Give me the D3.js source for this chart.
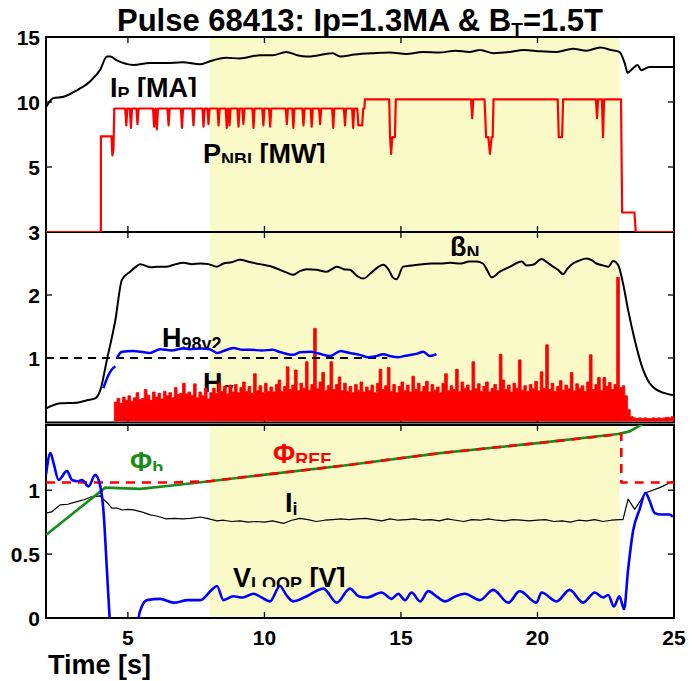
<!DOCTYPE html>
<html>
<head>
<meta charset="utf-8">
<script src="https://cdn.jsdelivr.net/npm/d3@7"></script>
<style>
  body { margin: 0; background: #fff; }
  svg { display: block; }
  text { font-family: "Liberation Sans", Arial, Helvetica, sans-serif; font-weight: bold; }
</style>
</head>
<body>
<div id="chart"></div>
<script>
'use strict'

////////////////////////////////////
/////////////// data ///////////////
////////////////////////////////////

// top panel: plasma current (x10) and NBI power, [time, value]
const ipData = [[2,9.6],[2.27,10.3],[2.64,10.4],[3.13,10.9],[3.62,11.6],[3.99,12.5],[4.23,13.5],[4.35,13.5],[4.6,13.2],[5.2,12.85],[5.8,13.0],[6.4,13.0],[7.0,13.05],[7.65,12.9],[7.95,13.1],[8.6,13.4],[9.1,13.35],[9.84,13.6],[10.3,13.6],[10.8,13.85],[11.2,13.6],[11.55,13.5],[12.0,13.6],[12.5,13.75],[12.77,13.5],[13.3,13.65],[14.0,13.75],[14.6,13.8],[15.2,13.7],[15.8,13.85],[16.4,13.8],[17.0,13.95],[17.5,13.85],[17.9,14.0],[18.4,13.75],[19.0,13.85],[19.5,14.0],[20.1,13.9],[20.7,13.85],[21.3,14.1],[21.8,13.95],[22.3,14.2],[22.7,14.0],[23.0,13.85],[23.2,12.95],[23.3,12.25],[23.5,12.6],[23.66,12.85],[23.8,12.45],[24.1,12.7],[25,12.7]]

const pnbiData = [[2,0],[4.01,0],[4.01,7.35],[4.40,7.35],[4.43,5.9],[4.47,6.3],[4.5,9.5],
  [4.90,9.5],[4.94,8.2],[4.98,9.5],[5.07,9.5],[5.11,8.0],[5.15,9.5],[5.31,9.5],[5.35,8.3],[5.39,9.5],
  [5.92,9.5],[5.96,8.1],[6.00,9.5],[6.02,9.5],[6.06,7.9],[6.10,9.5],[6.45,9.5],[6.49,8.2],[6.53,9.5],
  [6.94,9.5],[6.98,8.0],[7.02,9.5],[7.36,9.5],[7.40,8.2],[7.44,9.5],[7.73,9.5],[7.77,8.1],[7.81,9.5],
  [7.91,9.5],[7.95,8.3],[7.99,9.5],[8.28,9.5],[8.32,8.2],[8.36,9.5],[8.58,9.5],[8.62,8.0],[8.66,9.5],
  [8.68,9.5],[8.72,8.2],[8.76,9.5],[9.01,9.5],[9.05,8.1],[9.09,9.5],[9.19,9.5],[9.23,8.3],[9.27,9.5],
  [9.56,9.5],[9.60,8.0],[9.64,9.5],[9.92,9.5],[9.96,8.2],[10.00,9.5],[10.17,9.5],[10.21,8.1],[10.25,9.5],
  [10.78,9.5],[10.82,8.3],[10.86,9.5],[11.02,9.5],[11.06,8.0],[11.10,9.5],[11.39,9.5],[11.43,8.2],[11.47,9.5],
  [11.69,9.5],[11.73,8.1],[11.77,9.5],[12.00,9.5],[12.04,8.3],[12.08,9.5],[12.48,9.5],[12.52,8.0],[12.56,9.5],
  [12.91,9.5],[12.95,8.2],[12.99,9.5],[13.21,9.5],[13.25,8.0],[13.29,9.5],[13.40,9.5],[13.44,8.2],[13.58,8.2],
  [13.62,9.5],[13.66,9.5],[13.68,10.2],
  [14.57,10.2],[14.6,7.3],[14.64,6.0],[14.68,7.3],[14.78,7.3],[14.81,10.2],
  [17.57,10.2],[17.61,8.75],[17.65,10.2],
  [18.06,10.2],[18.12,7.3],[18.2,7.3],[18.26,6.0],[18.32,7.3],[18.36,7.3],[18.39,10.2],
  [20.74,10.2],[20.78,7.3],[20.9,7.3],[20.94,10.2],
  [22.14,10.2],[22.18,8.75],[22.22,10.2],[22.36,10.2],[22.40,7.3],[22.44,10.2],
  [23.06,10.2],[23.1,1.5],[23.55,1.5],[23.6,0],[25,0]]

// middle panel: beta_N, H98y2 (two pieces), H-alpha
const betaNData = [[2,0.2],[2.52,0.28],[3.13,0.29],[3.5,0.33],[3.8,0.36],[3.99,0.49],[4.23,0.97],[4.54,1.6],[4.78,2.24],[5.08,2.37],[5.3,2.45],[5.45,2.49],[5.82,2.44],[6.1,2.45],[6.43,2.45],[6.75,2.49],[7.04,2.51],[7.35,2.49],[7.65,2.5],[7.95,2.49],[8.26,2.45],[8.5,2.5],[8.8,2.52],[9.1,2.56],[9.5,2.52],[9.96,2.48],[10.2,2.46],[10.45,2.42],[10.8,2.36],[11.06,2.32],[11.3,2.38],[11.55,2.41],[11.9,2.4],[12.28,2.37],[12.5,2.42],[12.65,2.45],[12.9,2.41],[13.13,2.4],[13.4,2.3],[13.62,2.26],[13.9,2.35],[14.15,2.44],[14.35,2.48],[14.55,2.4],[14.7,2.28],[14.84,2.25],[15.08,2.45],[15.4,2.47],[15.8,2.49],[16.1,2.5],[16.43,2.5],[16.8,2.51],[17.2,2.5],[17.5,2.53],[17.77,2.53],[18.0,2.5],[18.15,2.4],[18.32,2.28],[18.62,2.37],[19.0,2.45],[19.42,2.53],[19.6,2.47],[19.84,2.48],[20.15,2.57],[20.35,2.52],[20.57,2.45],[20.75,2.4],[20.94,2.33],[21.1,2.42],[21.3,2.5],[21.55,2.55],[21.8,2.58],[22.0,2.55],[22.16,2.5],[22.4,2.47],[22.6,2.45],[22.77,2.54],[22.95,2.48],[23.13,2.19],[23.32,1.76],[23.56,1.29],[23.87,0.81],[24.05,0.64],[24.23,0.54],[24.6,0.45],[24.96,0.41]]

const h98RampData = [[4.1,0.52],[4.2,0.64],[4.29,0.73],[4.42,0.82],[4.54,0.87]]
const h98Data = [[4.6,1.0],[4.78,1.1],[5.2,1.11],[5.45,1.1],[5.8,1.08],[6.18,1.14],[6.6,1.12],[7.0,1.15],[7.28,1.14],[7.7,1.15],[8.0,1.14],[8.26,1.08],[8.5,1.11],[8.86,1.16],[9.2,1.13],[9.48,1.13],[9.9,1.12],[10.3,1.13],[10.6,1.09],[11.06,1.05],[11.3,1.09],[11.7,1.1],[12.0,1.07],[12.4,1.03],[12.8,1.11],[13.0,1.09],[13.25,1.07],[13.5,1.05],[13.8,1.01],[14.1,1.03],[14.35,1.06],[14.6,1.03],[14.9,1.01],[15.1,1.03],[15.39,1.05],[15.6,1.07],[15.82,1.1],[16.06,1.03],[16.3,1.06]]
const h98Ref = 1
const h98RefEnd = 14.5

// H-alpha samples every 0.1 s from 4.5 s to 25.0 s
const hAlphaStart = 4.5
const hAlphaStep = 0.1
const hAlphaValues = [
  0.30,0.36,0.28,0.38,0.33,0.40,0.31,0.37,0.45,0.34,
  0.36,0.50,0.41,0.33,0.46,0.38,0.44,0.35,0.47,0.40,
  0.45,0.37,0.53,0.42,0.44,0.60,0.43,0.46,0.41,0.59,
  0.37,0.46,0.40,0.52,0.35,0.45,
  0.52,0.44,0.60,0.47,0.55,0.43,0.57,0.46,0.58,0.45,
  0.53,0.62,0.47,0.55,0.44,0.75,0.48,0.56,0.45,0.60,
  0.47,0.54,0.46,0.58,0.65,0.47,0.55,0.86,0.50,0.57,
  0.81,0.48,0.60,0.52,0.94,0.49,0.58,1.47,0.51,0.62,
  0.77,0.48,0.56,0.94,0.50,0.58,0.70,
  0.48,0.60,0.47,0.55,0.45,0.58,0.49,0.62,0.46,0.54,
  0.48,0.57,0.45,0.60,0.82,0.50,0.56,0.85,0.47,0.58,
  0.45,0.55,0.62,0.48,0.57,0.46,0.71,0.50,0.60,0.47,
  0.55,0.63,0.46,0.58,0.49,0.54,0.45,0.60,0.75,0.48,
  0.56,0.50,0.82,0.47,0.62,0.52,0.57,0.48,0.94,0.51,
  0.59,0.47,0.55,0.62,0.46,0.52,0.58,0.48,1.06,0.65,
  0.50,0.57,0.46,0.60,0.52,0.97,0.49,0.56,0.47,0.58,
  0.51,0.63,0.48,0.78,0.52,1.21,0.50,0.60,0.47,0.55,
  0.64,0.49,0.57,0.51,0.77,0.48,0.59,0.52,0.56,0.47,
  0.62,1.05,0.50,0.58,0.69,0.49,0.69,0.55,0.61,0.50,
  0.58,2.28,0.53,0.56,0.40,0.18,0.07,
  0.05,0.04,0.05,0.04,0.05,0.04,0.04,0.05,0.04,0.05,0.04,0.05,0.06,0.05,0.07,0.06]

// bottom panel: flux, internal inductance, loop voltage
const phiBData = [[2,0.65],[4.17,1.02],[5.45,1.01],[6.79,1.04],[7.99,1.07],[9.96,1.12],[13.0,1.195],[16.43,1.29],[20.09,1.37],[22.95,1.44],[23.38,1.46],[23.87,1.52]]
const phiRefData = [[2,1.06],[6.6,1.06],[7.99,1.07],[9.96,1.12],[13.0,1.195],[16.43,1.29],[20.09,1.37],[23.07,1.44],[23.07,1.06],[25,1.06]]
const liData = [[2,0.82],[2.2,0.83],[2.52,0.885],[2.8,0.89],[3.13,0.91],[3.4,0.925],[3.62,0.945],[3.99,0.955],[4.1,0.93],[4.25,0.9],[4.41,0.86],[4.6,0.86],[4.8,0.845],[5.0,0.85],[5.2,0.846],[5.5,0.83],[5.82,0.807],[6.0,0.8],[6.18,0.79],[6.4,0.775],[6.7,0.78],[7.0,0.775],[7.3,0.78],[7.65,0.79],[7.9,0.78],[8.26,0.76],[8.5,0.765],[8.8,0.755],[9.1,0.76],[9.4,0.75],[9.7,0.755],[10.0,0.75],[10.3,0.76],[10.7,0.74],[11.0,0.765],[11.3,0.78],[11.6,0.77],[11.9,0.755],[12.2,0.765],[12.5,0.77],[12.8,0.775],[13.1,0.77],[13.4,0.775],[13.7,0.78],[14.0,0.77],[14.3,0.76],[14.6,0.775],[14.9,0.765],[15.2,0.77],[15.5,0.775],[15.8,0.765],[16.1,0.77],[16.4,0.76],[16.7,0.775],[17.0,0.765],[17.3,0.755],[17.6,0.77],[17.9,0.765],[18.2,0.775],[18.5,0.765],[18.8,0.76],[19.1,0.77],[19.4,0.765],[19.7,0.76],[20.0,0.765],[20.3,0.77],[20.6,0.755],[20.9,0.76],[21.2,0.75],[21.5,0.765],[21.8,0.76],[22.1,0.77],[22.4,0.755],[22.7,0.765],[23.0,0.77],[23.13,0.77],[23.32,0.93],[23.56,0.85],[23.96,0.98],[24.48,1.02],[24.96,1.07]]
const vloopData = [[2,1.12],[2.16,1.29],[2.28,1.21],[2.46,1.08],[2.77,1.15],[2.95,1.08],[3.15,1.07],[3.32,1.08],[3.56,1.03],[3.8,1.12],[3.99,1.03],[4.1,0.85],[4.23,0.38],[4.33,0],[4.4,-0.2],[5.3,-0.2],[5.39,0],[5.51,0.09],[5.7,0.14],[6.18,0.15],[6.67,0.12],[7.2,0.14],[7.65,0.14],[8.07,0.22],[8.26,0.25],[8.5,0.14],[8.86,0.17],[9.2,0.16],[9.6,0.19],[9.9,0.16],[10.2,0.13],[10.57,0.25],[10.8,0.18],[11.06,0.13],[11.55,0.17],[12.16,0.23],[12.65,0.12],[13.13,0.23],[13.45,0.17],[13.75,0.16],[14.29,0.2],[14.66,0.15],[14.9,0.19],[15.15,0.14],[15.39,0.2],[15.7,0.13],[16.0,0.21],[16.3,0.17],[16.61,0.13],[17.0,0.17],[17.34,0.19],[17.89,0.14],[18.38,0.22],[18.93,0.12],[19.35,0.21],[19.96,0.12],[20.15,0.2],[20.7,0.13],[21.18,0.22],[21.67,0.12],[22.1,0.2],[22.4,0.16],[22.59,0.18],[22.8,0.09],[23.0,0.17],[23.17,0.07],[23.32,0.38],[23.5,0.68],[23.74,0.85],[23.96,0.98],[24.1,0.92],[24.3,0.82],[24.54,0.81],[24.84,0.81],[24.96,0.79]]

// flat-top window and ticks
const flatTop = [8, 23]
const timeTicks = [5, 10, 15, 20, 25]
const topTicks = [5, 10, 15]
const midTicks = [1, 2, 3]
const botTicks = [0, 0.5, 1]

////////////////////////////////////
//////////// svg setup /////////////
////////////////////////////////////

const W = 693, H = 681
const red = '#ff0000', blue = '#0000ff', green = '#1a8c1a', yellow = '#fafac8'

const svg = d3.select('#chart')
  .append('svg')
  .attr('width', W)
  .attr('height', H)

const x = d3.scaleLinear().domain([2, 25]).range([46, 674])

const panels = [
  {id: 'top', y: d3.scaleLinear().domain([0, 15]).range([232, 37]), top: 37, bottom: 232, ticks: topTicks},
  {id: 'mid', y: d3.scaleLinear().domain([0, 3]).range([421, 232]), top: 232, bottom: 422.5, ticks: midTicks},
  {id: 'bot', y: d3.scaleLinear().domain([0, 1.51]).range([618, 425]), top: 425, bottom: 618, ticks: botTicks}
]
const [pTop, pMid, pBot] = panels

const defs = svg.append('defs')
panels.forEach(p => {
  defs.append('clipPath').attr('id', 'clip-' + p.id)
    .append('rect')
    .attr('x', x(2)).attr('y', p.top)
    .attr('width', x(25) - x(2)).attr('height', p.bottom - p.top)
})

// flat-top shading
svg.append('rect')
  .attr('x', x(flatTop[0]))
  .attr('y', pTop.top)
  .attr('width', x(flatTop[1]) - x(flatTop[0]))
  .attr('height', pBot.bottom - pTop.top)
  .attr('fill', yellow)

////////////////////////////////////
////////////// frames //////////////
////////////////////////////////////

const frame = svg.append('g')
panels.forEach(p => {
  frame.append('rect')
    .attr('x', x(2)).attr('y', p.top)
    .attr('width', x(25) - x(2)).attr('height', p.bottom - p.top)
    .attr('fill', 'none').attr('stroke', '#000').attr('stroke-width', 2)

  // inward time ticks on top and bottom edges
  ;[5, 10, 15, 20].forEach(t => {
    frame.append('line').attr('x1', x(t)).attr('x2', x(t))
      .attr('y1', p.top).attr('y2', p.top + 6)
      .attr('stroke', '#000').attr('stroke-width', 1.3)
    frame.append('line').attr('x1', x(t)).attr('x2', x(t))
      .attr('y1', p.bottom).attr('y2', p.bottom - 6)
      .attr('stroke', '#000').attr('stroke-width', 1.3)
  })

  // inward value ticks, both sides
  p.ticks.forEach(v => {
    const yy = p.y(v)
    if (yy <= p.top + 1 || yy >= p.bottom - 1) return
    frame.append('line').attr('x1', x(2)).attr('x2', x(2) + 6)
      .attr('y1', yy).attr('y2', yy).attr('stroke', '#000').attr('stroke-width', 1.3)
    frame.append('line').attr('x1', x(25)).attr('x2', x(25) - 6)
      .attr('y1', yy).attr('y2', yy).attr('stroke', '#000').attr('stroke-width', 1.3)
  })

  // value labels
  frame.selectAll(null)
    .data(p.ticks)
    .join('text')
    .attr('x', 40)
    .attr('y', d => p.y(d) + 7.5)
    .attr('text-anchor', 'end')
    .attr('font-size', 21)
    .text(d => d)
})

frame.selectAll(null)
  .data(timeTicks)
  .join('text')
  .attr('x', d => x(d))
  .attr('y', 645)
  .attr('text-anchor', 'middle')
  .attr('font-size', 21)
  .text(d => d)

frame.append('text')
  .attr('x', 48).attr('y', 674)
  .attr('font-size', 27)
  .text('Time [s]')

const title = svg.append('text')
  .attr('x', 360).attr('y', 31)
  .attr('text-anchor', 'middle')
  .attr('font-size', 31)
title.append('tspan').text('Pulse 68413: Ip=1.3MA & B')
title.append('tspan').attr('font-size', 19).attr('dy', 5).text('T')
title.append('tspan').attr('dy', -5).text('=1.5T')

////////////////////////////////////
////////////// labels //////////////
////////////////////////////////////

const labelLayer = svg.append('g')
function addLabel(parts, lx, ly, color, clipY, layer) {
  const id = 'lab-' + Math.round(lx) + '-' + Math.round(ly)
  if (clipY != null) {
    defs.append('clipPath').attr('id', id)
      .append('rect').attr('x', 0).attr('y', clipY - 40).attr('width', W).attr('height', 40)
  }
  const t = (layer || labelLayer).append('text')
    .attr('x', lx).attr('y', ly)
    .attr('font-size', 27)
    .attr('fill', color)
  if (clipY != null) t.attr('clip-path', `url(#${id})`)
  let shifted = false
  parts.forEach(([s, sub]) => {
    const ts = t.append('tspan').text(s)
    if (sub && !shifted) { ts.attr('font-size', 18).attr('dy', 3); shifted = true }
    else if (!sub && shifted) { ts.attr('dy', -3); shifted = false }
  })
}

////////////////////////////////////
/////////////// lines //////////////
////////////////////////////////////

function drawLine(p, data, color, width, dash, curve) {
  const line = d3.line().x(d => x(d[0])).y(d => p.y(d[1])).curve(curve || d3.curveLinear)
  svg.append('path')
    .attr('clip-path', `url(#clip-${p.id})`)
    .attr('d', line(data))
    .attr('fill', 'none')
    .attr('stroke', color)
    .attr('stroke-width', width)
    .attr('stroke-linejoin', 'round')
    .attr('stroke-dasharray', dash || null)
}

// top panel
drawLine(pTop, ipData, '#000', 2, null, d3.curveMonotoneX)
drawLine(pTop, pnbiData, red, 2.2)

// middle panel
const hLabelLayer = svg.append('g')
addLabel([['H'], ['α', 1]], 203, 392, '#000', 392, hLabelLayer)

const hAlpha = hAlphaValues.map((v, i) => [hAlphaStart + i * hAlphaStep, v])
svg.append('path')
  .attr('clip-path', 'url(#clip-mid)')
  .attr('d', d3.area().curve(d3.curveStepAfter)
    .x(d => x(d[0])).y0(pMid.y(0)).y1(d => pMid.y(d[1]))(hAlpha))
  .attr('fill', red)
  .attr('stroke', red)
  .attr('stroke-width', 0.8)

drawLine(pMid, [[2, h98Ref], [h98RefEnd, h98Ref]], '#000', 2, '8,6')
drawLine(pMid, betaNData, '#000', 2, null, d3.curveMonotoneX)
drawLine(pMid, h98RampData, blue, 2.5, null, d3.curveMonotoneX)
drawLine(pMid, h98Data, blue, 2.5, null, d3.curveMonotoneX)

// bottom panel
drawLine(pBot, liData, '#000', 1.2)
drawLine(pBot, phiBData, green, 2.6)
drawLine(pBot, phiRefData, red, 2.6, '9,7')
drawLine(pBot, vloopData, blue, 2.6, null, d3.curveMonotoneX)

svg.node().appendChild(labelLayer.node())
addLabel([['I'], ['P', 1], [' [MA]']], 110, 97, '#000', 97)
addLabel([['P'], ['NBI', 1], [' [MW]']], 203, 163, '#000', 163)
addLabel([['β'], ['N', 1]], 450, 256, '#000', 256)
addLabel([['H'], ['98y2', 1]], 162, 347, '#000', 348)
addLabel([['Φ'], ['b', 1]], 130, 471, green, 471)
addLabel([['Φ'], ['REF', 1]], 273, 463, red, 463)
addLabel([['I'], ['i', 1]], 285, 512, '#000', null)
addLabel([['V'], ['LOOP', 1], [' [V]']], 233, 587, '#000', 587)
</script>
</body>
</html>
